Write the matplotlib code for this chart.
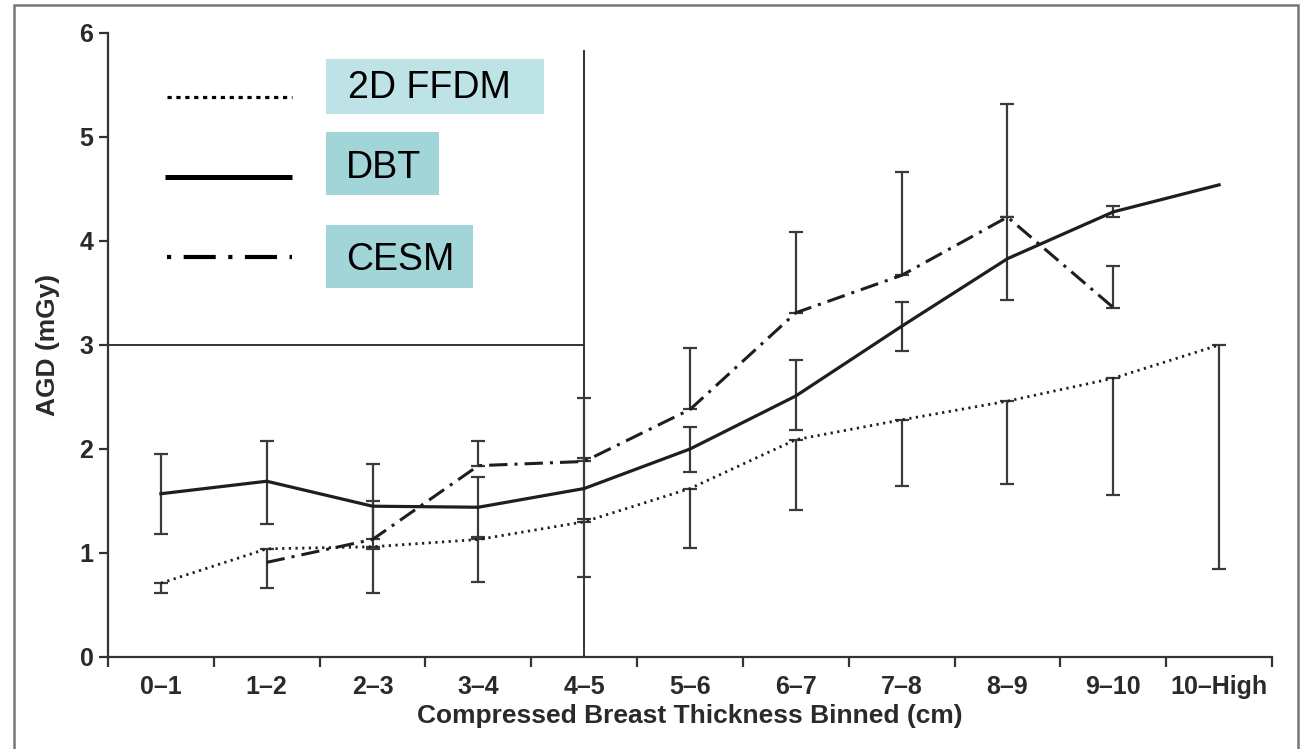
import numpy as np
import matplotlib
matplotlib.use("Agg")
import matplotlib.pyplot as plt
from matplotlib.lines import Line2D
from matplotlib.patches import Rectangle

# ---------------- data ----------------
categories = ['0–1', '1–2', '2–3', '3–4', '4–5', '5–6', '6–7', '7–8', '8–9', '9–10', '10–High']

ffdm = [0.71, 1.04, 1.06, 1.13, 1.30, 1.62, 2.09, 2.28, 2.46, 2.68, 3.00]
ffdm_err_low = [0.09, 0.38, 0.44, 0.41, 0.53, 0.57, 0.68, 0.64, 0.80, 1.12, 2.15]
ffdm_err_high = [0, 0, 0, 0, 0, 0, 0, 0, 0, 0, 0]

dbt = [1.57, 1.69, 1.45, 1.44, 1.62, 2.00, 2.51, 3.18, 3.83, 4.28, 4.54]
dbt_err_low = [0.39, 0.41, 0.41, 0.29, 0.29, 0.22, 0.33, 0.24, 0.40, 0.05, 0]
dbt_err_high = [0.38, 0.39, 0.41, 0.29, 0.29, 0.21, 0.35, 0.23, 0.40, 0.06, 0]

cesm = [np.nan, 0.91, 1.13, 1.84, 1.88, 2.38, 3.31, 3.67, 4.23, 3.36, np.nan]
cesm_err_low = [0, 0, 0, 0, 0, 0, 0, 0, 0, 0, 0]
cesm_err_high = [0, 0, 0.37, 0.24, 0.61, 0.59, 0.78, 0.99, 1.09, 0.40, 0]

legend_labels = ['2D FFDM', 'DBT', 'CESM']
xlabel = 'Compressed Breast Thickness Binned (cm)'
ylabel = 'AGD (mGy)'

# ---------------- figure ----------------
W, H = 1303, 749
fig = plt.figure(figsize=(W / 100, H / 100), dpi=100)
plt.rcParams['font.family'] = ['Liberation Sans', 'DejaVu Sans']

def fx(px):
    return px / W

def fy(py):
    return 1 - py / H

ax = fig.add_axes([fx(108), fy(657), fx(1272) - fx(108), fy(33) - fy(657)])

x = np.arange(len(categories))
line_col = '#1e1e1e'
err_col = '#3a3a3a'

def draw_err(vals, lo, hi):
    vals = np.asarray(vals, float)
    lo = np.asarray(lo, float)
    hi = np.asarray(hi, float)
    m = (~np.isnan(vals)) & ((lo > 0) | (hi > 0))
    ax.errorbar(x[m], vals[m], yerr=[lo[m], hi[m]], fmt='none', ecolor=err_col,
                elinewidth=1.6, capsize=5, capthick=1.6, zorder=2)

draw_err(ffdm, ffdm_err_low, ffdm_err_high)
draw_err(dbt, dbt_err_low, dbt_err_high)
draw_err(cesm, cesm_err_low, cesm_err_high)

ax.plot(x, ffdm, color=line_col, lw=2.0, linestyle=(0, (0.8, 1.6)), zorder=3)
ax.plot(x, dbt, color=line_col, lw=2.3, linestyle='-', zorder=3)
ax.plot(x, cesm, color=line_col, lw=2.2, linestyle=(0, (6, 2.3, 1, 2.3)), zorder=3)

# divider lines
ax.plot([4, 4], [0, 5.83], color='#333333', lw=1.4, zorder=1)
ax.plot([-0.5, 4], [3, 3], color='#333333', lw=1.4, zorder=1)

ax.set_xlim(-0.5, len(categories) - 0.5)
ax.set_ylim(0, 6)

for s in ['top', 'right']:
    ax.spines[s].set_visible(False)
for s in ['left', 'bottom']:
    ax.spines[s].set_color('#333333')
    ax.spines[s].set_linewidth(1.6)

ax.set_xticks(np.arange(-0.5, len(categories), 1.0))
ax.set_xticklabels([])
ax.set_xticks(x, minor=True)
ax.set_xticklabels(categories, minor=True)
ax.tick_params(axis='x', which='major', length=7.5, width=1.6, color='#333333', direction='out')
ax.tick_params(axis='x', which='minor', length=0, pad=13, labelsize=18, labelcolor='#2a2a2a')
for t in ax.get_xticklabels(minor=True):
    t.set_fontweight('bold')

ax.set_yticks(np.arange(0, 7, 1))
ax.tick_params(axis='y', length=6.5, width=1.6, color='#333333', pad=4, labelsize=18, labelcolor='#2a2a2a')
for t in ax.get_yticklabels():
    t.set_fontweight('bold')

ax.set_xlabel(xlabel, fontsize=19, fontweight='bold', color='#2a2a2a')
ax.xaxis.label.set_va('center')
ax.xaxis.set_label_coords(0.5, -0.0946)
ax.set_ylabel(ylabel, fontsize=19, fontweight='bold', color='#2a2a2a')
ax.yaxis.label.set_va('center')
ax.yaxis.set_label_coords(-0.0515, 0.5)

# ---------------- custom legend ----------------
leg_y = [97, 177, 257]
fig.add_artist(Line2D([fx(167), fx(292)], [fy(leg_y[0])] * 2, color='black', lw=2.3,
                      linestyle=(0, (1.33, 1.45))))
fig.add_artist(Line2D([fx(165), fx(292)], [fy(leg_y[1])] * 2, color='black', lw=3.6,
                      solid_capstyle='butt'))
fig.add_artist(Line2D([fx(167), fx(292)], [fy(leg_y[2])] * 2, color='black', lw=3.0,
                      linestyle=(0, (1.0, 3.0, 7.7, 3.0))))

boxes = [(326, 59, 544, 114, '#bde3e6'), (326, 132, 439, 195, '#a1d5d8'), (326, 225, 473, 288, '#a1d5d8')]
baselines = [98, 178, 270]
text_x = [348, 346, 346]
for (x0, y0, x1, y1, c), lab, bl, tx in zip(boxes, legend_labels, baselines, text_x):
    fig.add_artist(Rectangle((fx(x0), fy(y1)), fx(x1) - fx(x0), fy(y0) - fy(y1),
                             transform=fig.transFigure, facecolor=c, edgecolor='none'))
    fig.text(fx(tx), fy(bl), lab, fontsize=27, color='black', va='baseline', ha='left')

# outer frame
fig.add_artist(Rectangle((fx(14), fy(770)), fx(1298) - fx(14), fy(5) - fy(770),
                         transform=fig.transFigure, facecolor='none', edgecolor='#777777', lw=1.8))

fig.savefig('out.png', dpi=100)
